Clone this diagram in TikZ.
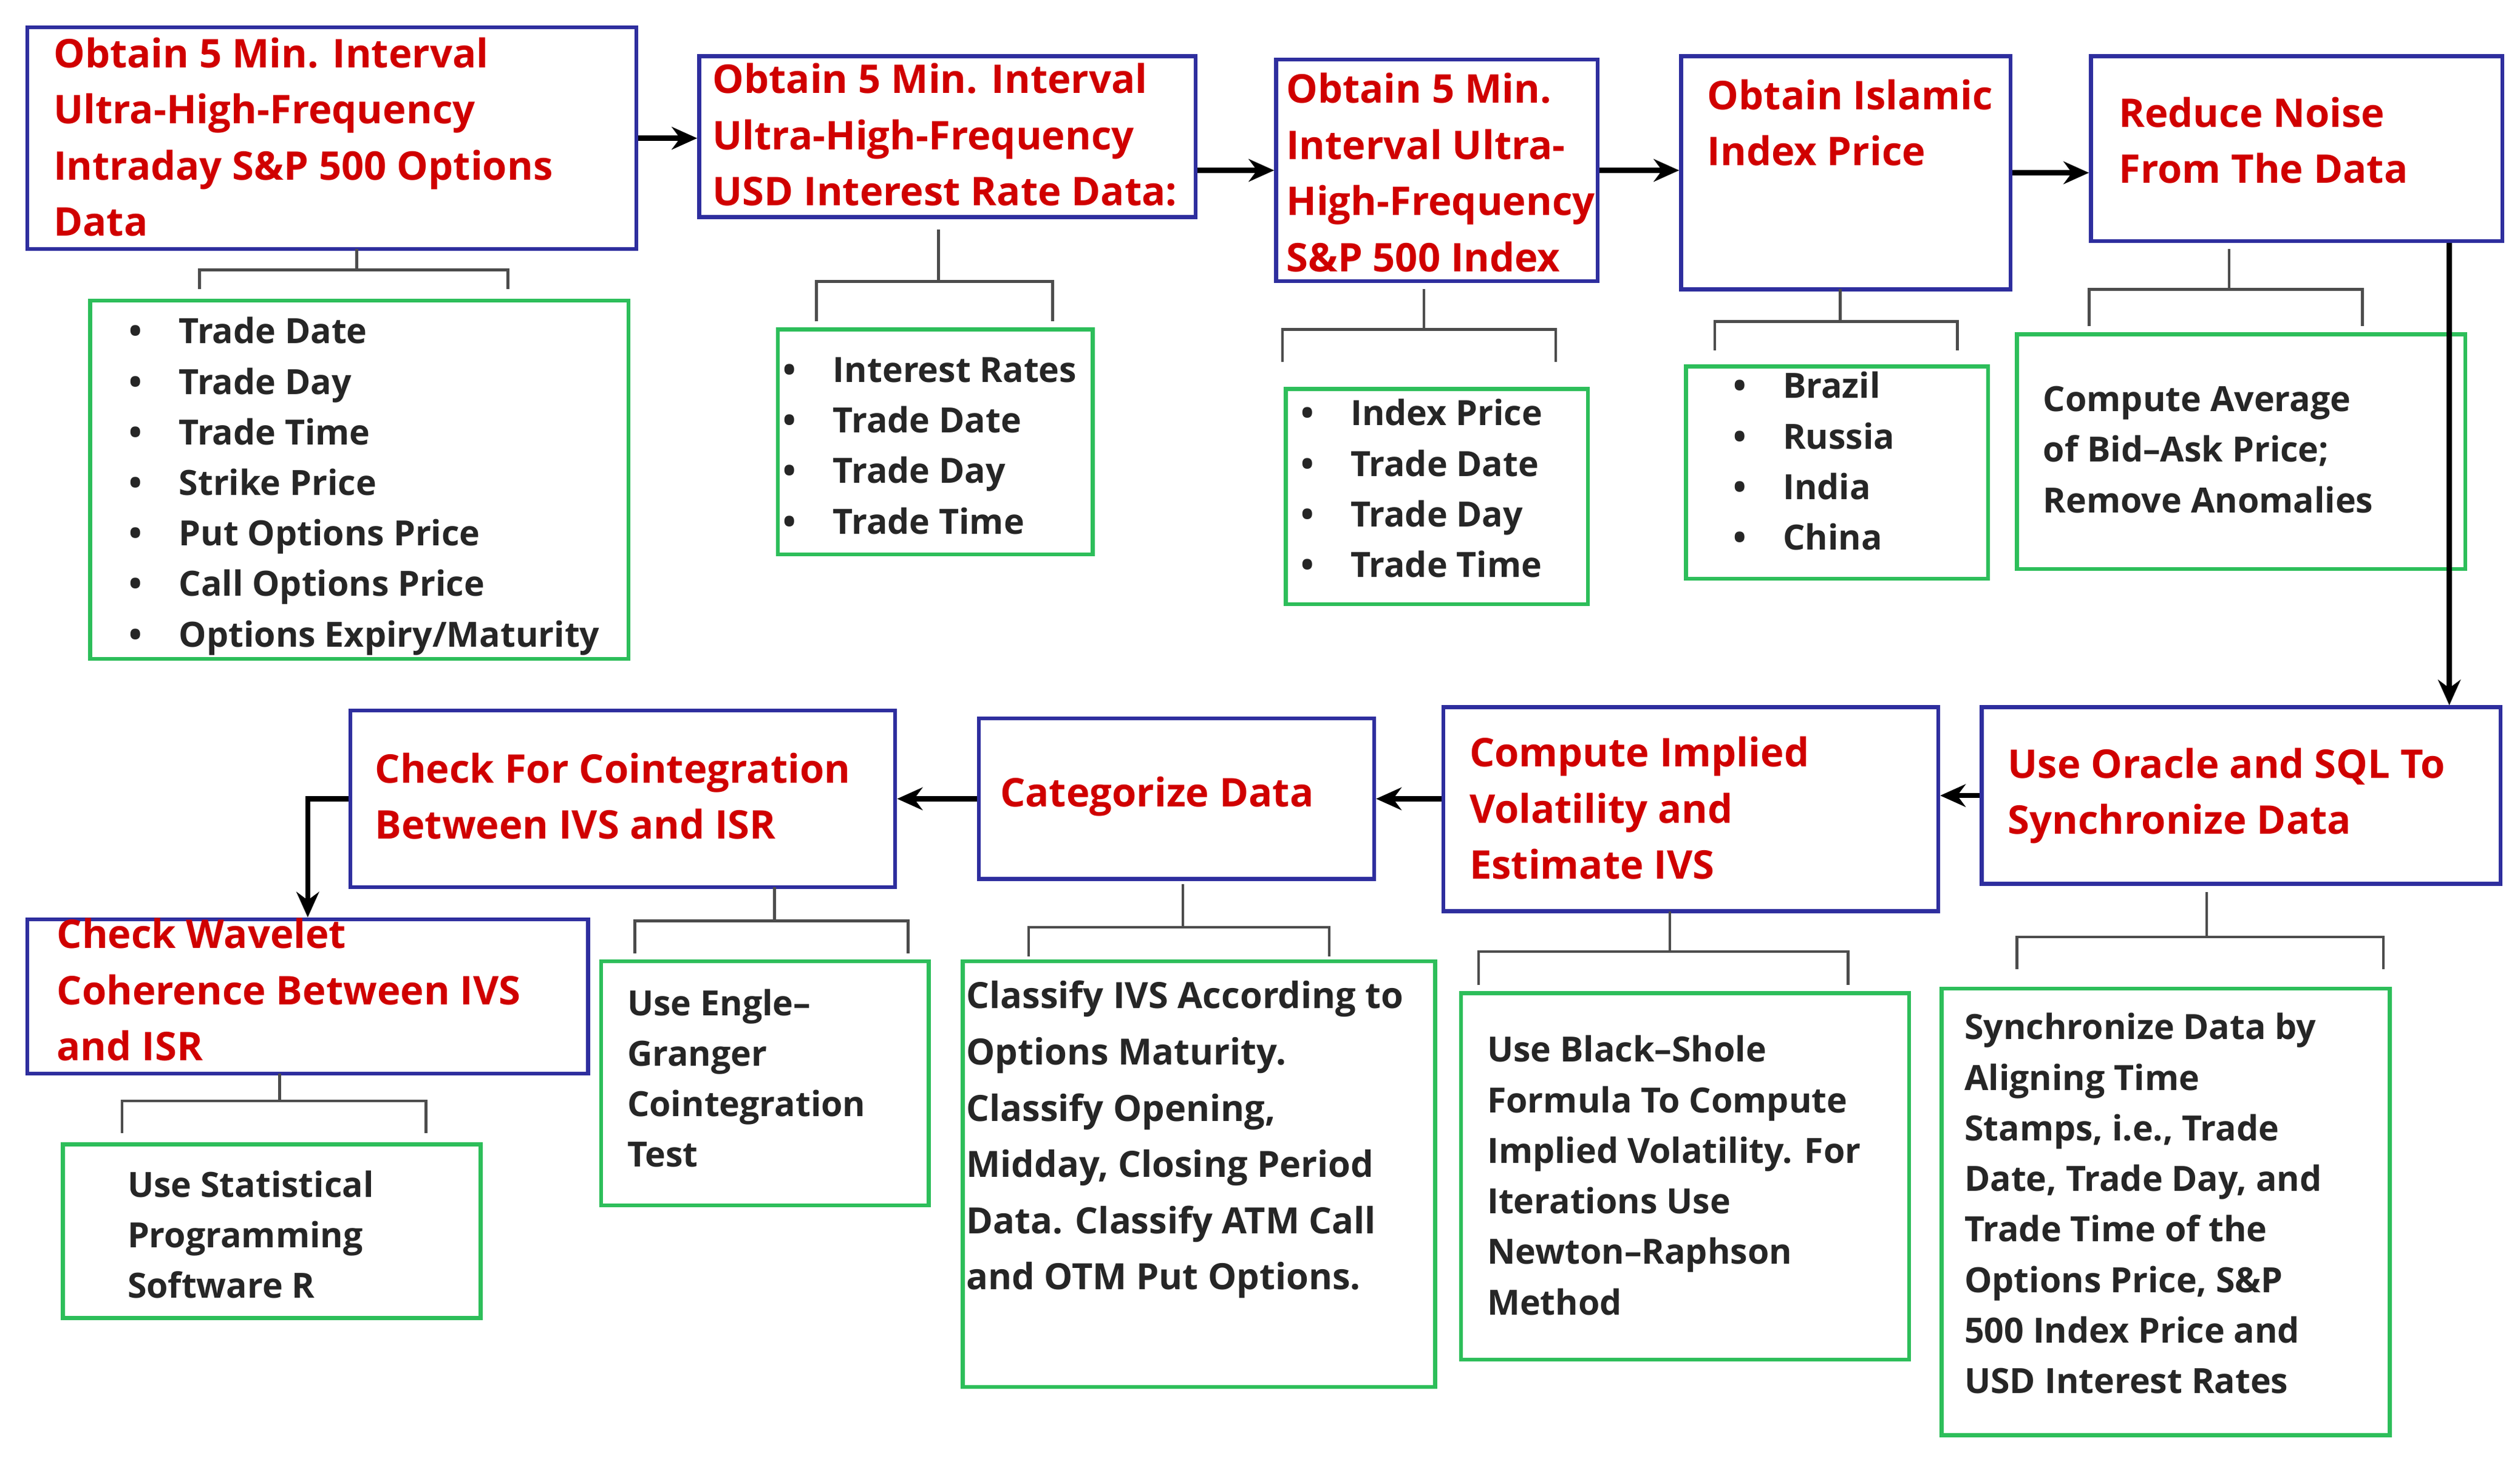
\documentclass[tikz,border=0pt]{standalone}
\usepackage{fontspec}
\setmainfont{Open Sans}
\usetikzlibrary{arrows.meta,calc}
\definecolor{bbord}{HTML}{2E2E9E}
\definecolor{gbord}{HTML}{2DBE5A}
\definecolor{ttlred}{HTML}{D00000}
\tikzset{
  bbox/.style={draw=bbord, line width=1.4pt, inner sep=0pt},
  gbox/.style={draw=gbord, line width=1.4pt, inner sep=0pt},
  ttl/.style={anchor=north west, inner sep=0pt, align=left, text=ttlred, font=\fontsize{14}{19.9}\selectfont\bfseries},
  lst/.style={anchor=north west, inner sep=0pt, align=left, text=black!85, font=\fontsize{12.3}{17.9}\selectfont\bfseries},
  brk/.style={line width=1pt, black!70},
  arr/.style={-{Stealth[length=9pt,width=8pt]}, line width=1.8pt}
}
\newcommand{\bul}{\makebox[0.62cm][l]{\textbullet}}
\begin{document}
\begin{tikzpicture}[x=0.02cm,y=-0.02cm]
  \useasboundingbox (0,0) rectangle (1568,907);

  % top row
  \node[bbox, minimum width=7.58cm, minimum height=2.76cm] (b1) at (206.5,86) {};
  \node[bbox, minimum width=6.18cm, minimum height=2.0cm] (b2) at (589.5,85) {};
  \node[bbox, minimum width=4.0cm, minimum height=2.76cm] (b3) at (894,106) {};
  \node[bbox, minimum width=4.1cm, minimum height=2.9cm] (b4) at (1148.5,107.5) {};
  \node[bbox, minimum width=5.12cm, minimum height=2.3cm] (b5) at (1429,92.5) {};

  \node[ttl] (t1) at (33,23) {Obtain 5 Min. Interval\\Ultra-High-Frequency\\Intraday S\&P 500 Options\\Data};
  \node[ttl] (t2) at (443,39) {Obtain 5 Min. Interval\\Ultra-High-Frequency\\USD Interest Rate Data:};
  \node[ttl] (t3) at (800,45) {Obtain 5 Min.\\Interval Ultra-\\High-Frequency\\S\&P 500 Index};
  \node[ttl] (t4) at (1062,49) {Obtain Islamic\\Index Price};
  \node[ttl] (t5) at (1318,60) {Reduce Noise\\From The Data};

  \draw[arr] (b1.east) -- (b1.east -| b2.west);
  \draw[arr] (b2.east |- b3.west) -- (b3.west);
  \draw[arr] (b3.east) -- (b3.east -| b4.west);
  \draw[arr] (b4.east) -- (b4.east -| b5.west);

  % top lists
  \node[gbox, minimum width=6.7cm, minimum height=4.46cm] (g1) at (223.5,298.5) {};
  \node[gbox, minimum width=3.92cm, minimum height=2.8cm] (g2) at (582,275) {};
  \node[gbox, minimum width=3.76cm, minimum height=2.68cm] (g3) at (894,309) {};
  \node[gbox, minimum width=3.76cm, minimum height=2.64cm] (g4) at (1143,294) {};
  \node[gbox, minimum width=5.58cm, minimum height=2.92cm] (g5) at (1394.5,281) {};

  \node[lst] (l1) at (80,197) {\bul Trade Date\\\bul Trade Day\\\bul Trade Time\\\bul Strike Price\\\bul Put Options Price\\\bul Call Options Price\\\bul Options Expiry/Maturity};
  \node[lst] (l2) at (487,222) {\bul Interest Rates\\\bul Trade Date\\\bul Trade Day\\\bul Trade Time};
  \node[lst] (l3) at (809,248) {\bul Index Price\\\bul Trade Date\\\bul Trade Day\\\bul Trade Time};
  \node[lst] (l4) at (1078,231) {\bul Brazil\\\bul Russia\\\bul India\\\bul China};
  \node[lst] (l5) at (1271,240) {Compute Average\\of Bid--Ask Price;\\Remove Anomalies};

  \draw[brk] (222,155) -- (222,168) (124,180) -- (124,168) -- (316,168) -- (316,180);
  \draw[brk] (584,143) -- (584,175) (508,200) -- (508,175) -- (655,175) -- (655,200);
  \draw[brk] (886,180) -- (886,205) (798,225) -- (798,205) -- (968,205) -- (968,225);
  \draw[brk] (1145,180) -- (1145,200) (1067,218) -- (1067,200) -- (1218,200) -- (1218,218);
  \draw[brk] (1387,155) -- (1387,180) (1300,203) -- (1300,180) -- (1470,180) -- (1470,203);

  % bottom row
  \node[bbox, minimum width=6.46cm, minimum height=2.2cm] (b6) at (1394.5,495) {};
  \node[bbox, minimum width=6.16cm, minimum height=2.54cm] (b7) at (1052,503.5) {};
  \node[bbox, minimum width=4.92cm, minimum height=2.0cm] (b8) at (732,497) {};
  \node[bbox, minimum width=6.78cm, minimum height=2.2cm] (b9) at (387.5,497) {};
  \node[bbox, minimum width=6.98cm, minimum height=1.92cm] (b10) at (191.5,620) {};

  \node[ttl] (t6) at (1249,465) {Use Oracle and SQL To\\Synchronize Data};
  \node[ttl] (t7) at (914,458) {Compute Implied\\Volatility and\\Estimate IVS};
  \node[ttl] (t8) at (622,483) {Categorize Data};
  \node[ttl] (t9) at (233,468) {Check For Cointegration\\Between IVS and ISR};
  \node[ttl] (t10) at (35,571) {Check Wavelet\\Coherence Between IVS\\and ISR};

  \draw[arr] (b5.south -| 1524,0) -- (b6.north -| 1524,0);
  \draw[arr] (b6.west) -- (b6.west -| b7.east);
  \draw[arr] (b7.west |- b8.east) -- (b8.east);
  \draw[arr] (b8.west) -- (b8.west -| b9.east);
  \draw[arr] (b9.west) -| (b10.north);

  % bottom lists
  \node[gbox, minimum width=5.58cm, minimum height=5.56cm] (g6) at (1347.5,754) {};
  \node[gbox, minimum width=5.58cm, minimum height=4.56cm] (g7) at (1048.5,732) {};
  \node[gbox, minimum width=5.88cm, minimum height=5.3cm] (g8) at (746,730.5) {};
  \node[gbox, minimum width=4.08cm, minimum height=3.04cm] (g9) at (476,674) {};
  \node[gbox, minimum width=5.2cm, minimum height=2.16cm] (g10) at (169,766) {};

  \node[lst] (l6) at (1222,630) {Synchronize Data by\\Aligning Time\\Stamps, i.e., Trade\\Date, Trade Day, and\\Trade Time of the\\Options Price, S\&P\\500 Index Price and\\USD Interest Rates};
  \node[lst] (l7) at (925,644) {Use Black--Shole\\Formula To Compute\\Implied Volatility. For\\Iterations Use\\Newton--Raphson\\Method};
  \node[lst, font=\fontsize{12.8}{19.9}\selectfont\bfseries] (l8) at (601,610) {Classify IVS According to\\Options Maturity.\\Classify Opening,\\Midday, Closing Period\\Data. Classify ATM Call\\and OTM Put Options.};
  \node[lst] (l9) at (390,615) {Use Engle--\\Granger\\Cointegration\\Test};
  \node[lst] (l10) at (79,728) {Use Statistical\\Programming\\Software R};

  \draw[brk] (1373,555) -- (1373,583) (1255,603) -- (1255,583) -- (1483,583) -- (1483,603);
  \draw[brk] (1039,567) -- (1039,592) (920,613) -- (920,592) -- (1150,592) -- (1150,613);
  \draw[brk] (736,550) -- (736,577) (640,595) -- (640,577) -- (827,577) -- (827,595);
  \draw[brk] (482,552) -- (482,573) (395,593) -- (395,573) -- (565,573) -- (565,593);
  \draw[brk] (174,668) -- (174,685) (76,705) -- (76,685) -- (265,685) -- (265,705);
\end{tikzpicture}
\end{document}
